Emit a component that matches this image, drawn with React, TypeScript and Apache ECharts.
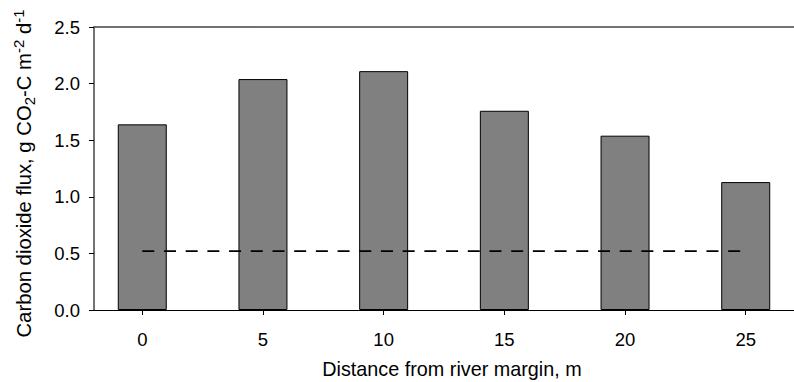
import React, { useEffect, useRef } from "react";
import * as echarts from "echarts";

const distances = [0, 5, 10, 15, 20, 25];
const fluxValues = [1.64, 2.04, 2.11, 1.76, 1.54, 1.13];
const referenceLevel = 0.52;
const referenceRange = [0, 25];
const xTickValues = [0, 5, 10, 15, 20, 25];
const xTitle = "Distance from river margin, m";

export default function App() {
  const ref = useRef<HTMLDivElement>(null);
  useEffect(() => {
    if (!ref.current) return;
    const chart = echarts.init(ref.current, null, { renderer: "svg" });
    const font = "Liberation Sans, Arial, sans-serif";
    chart.setOption({
      animation: false,
      backgroundColor: "#ffffff",
      grid: { left: 94, right: 0, top: 27, bottom: 72, containLabel: false, outerBoundsMode: "none" },
      xAxis: [
        {
          type: "value",
          min: -2,
          max: 27,
          name: xTitle,
          nameLocation: "middle",
          nameGap: 49,
          nameTextStyle: { fontFamily: font, fontSize: 19.8, color: "#000", padding: [0, 0, 0, 16] },
          axisLine: { show: true, onZero: false, lineStyle: { color: "#000", width: 1 } },
          axisTick: { show: true, length: 5, inside: false, customValues: xTickValues, lineStyle: { color: "#000" } },
          axisLabel: { show: true, customValues: xTickValues, margin: 20, fontFamily: font, fontSize: 18.5, color: "#000" },
          splitLine: { show: false },
        },
        {
          type: "value",
          position: "top",
          min: -2,
          max: 27,
          axisLine: { show: true, onZero: false, lineStyle: { color: "#444", width: 1.5 } },
          axisTick: { show: false },
          axisLabel: { show: false },
          splitLine: { show: false },
        },
      ],
      yAxis: {
        type: "value",
        min: 0,
        max: 2.5,
        interval: 0.5,
        name: "Carbon dioxide flux, g CO{sub|2}-C m{sup|-2} d{sup|-1}",
        nameLocation: "middle",
        nameGap: 57,
        nameRotate: 90,
        nameTextStyle: {
          fontFamily: font,
          fontSize: 20.3,
          color: "#000",
          lineHeight: 26,
          padding: [0, 10, 0, 0],
          rich: {
            sub: { fontFamily: font, fontSize: 15, color: "#000", verticalAlign: "bottom", lineHeight: 14 },
            sup: { fontFamily: font, fontSize: 15, color: "#000", verticalAlign: "top", lineHeight: 14 },
          },
        },
        axisLine: { show: true, onZero: false, lineStyle: { color: "#444", width: 1.5 } },
        axisTick: { show: true, length: 5, inside: false, lineStyle: { color: "#000" } },
        axisLabel: {
          margin: 14,
          fontFamily: font,
          fontSize: 18.5,
          color: "#000",
          formatter: (v: number) => v.toFixed(1),
        },
        splitLine: { show: false },
      },
      series: [
        {
          type: "bar",
          xAxisIndex: 0,
          data: distances.map((d, i) => [d, fluxValues[i]]),
          barWidth: 49,
          itemStyle: { color: "#808080", borderColor: "#000", borderWidth: 1 },
          z: 2,
        },
        {
          type: "line",
          xAxisIndex: 0,
          data: referenceRange.map((d) => [d, referenceLevel]),
          symbol: "none",
          lineStyle: { color: "#000", width: 1.6, type: [12, 9.7] },
          z: 5,
        },
      ],
    });
    return () => chart.dispose();
  }, []);
  return (
    <div
      ref={ref}
      style={{ position: "absolute", left: 0, top: 0, width: 794, height: 382 }}
    />
  );
}
